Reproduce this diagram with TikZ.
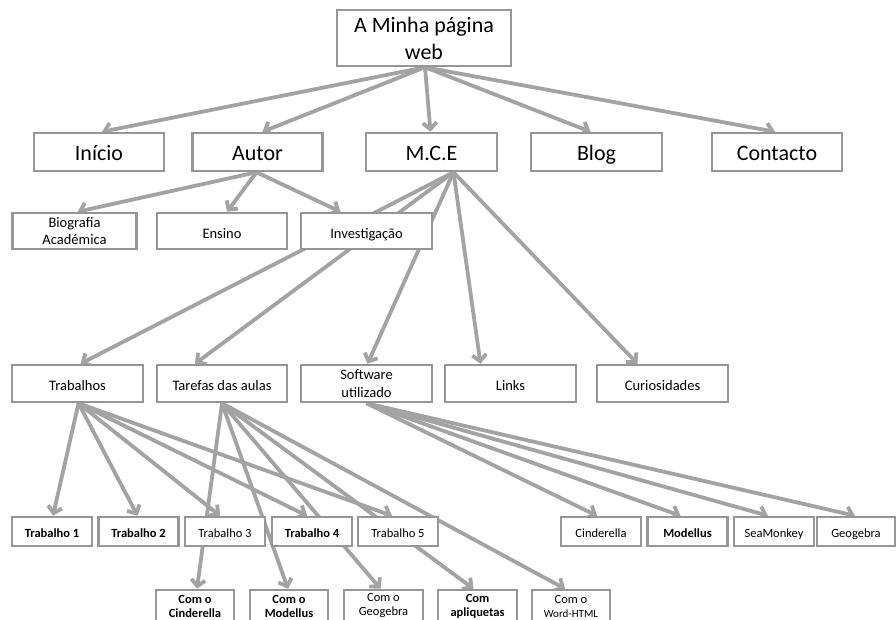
\documentclass[tikz,border=0pt]{standalone}
\usepackage{fontspec}
\setmainfont{Carlito}
\usetikzlibrary{arrows.meta,backgrounds}
\definecolor{boxgray}{RGB}{150,150,150}
\definecolor{linegray}{RGB}{163,163,163}
\pgfdeclarelayer{paper}
\pgfsetlayers{paper,background,main}
\begin{document}
\begin{tikzpicture}[x=1pt,y=-1pt,
  box/.style={draw=boxgray, line width=2.5pt, fill=white, inner sep=0pt, align=center, text=black},
  big/.style={box, minimum height=38pt, font=\fontsize{22}{27}\selectfont},
  bigone/.style={big, text height=18.5pt, text depth=2.5pt},
  mid/.style={box, minimum height=37pt, minimum width=130pt, font=\fontsize{14.5}{17.5}\selectfont},
  midone/.style={mid, text height=14pt, text depth=0pt},
  small/.style={box, minimum height=29pt, minimum width=80pt, font=\fontsize{12.5}{14}\selectfont, text height=11pt, text depth=0pt},
  smallb/.style={small, font=\fontsize{12.5}{14}\selectfont\bfseries},
  tiny/.style={box, minimum height=32pt, minimum width=78pt, font=\fontsize{12.5}{14}\selectfont},
  tinyb/.style={tiny, font=\fontsize{12.5}{14}\selectfont\bfseries},
  link/.style={draw=linegray, line width=3.8pt, -{Straight Barb[length=6.5pt,width=14pt]}}
]
\useasboundingbox (0,0) rectangle (896,619);
\begin{pgfonlayer}{paper}
\fill[white] (0,0) rectangle (896,619);
\end{pgfonlayer}

% level 0
\node[big, minimum width=174pt, minimum height=56pt] (top) at (424,38) {A Minha página\\web};
% level 1
\node[bigone, minimum width=130pt] (inicio) at (99,152) {Início};
\node[bigone, minimum width=130pt] (autor) at (257.5,152) {Autor};
\node[bigone, minimum width=131pt] (mce) at (431.5,152) {M.C.E};
\node[bigone, minimum width=131pt] (blog) at (596.5,152) {Blog};
\node[bigone, minimum width=130pt] (contacto) at (777,152) {Contacto};
% level 2
\node[mid, minimum width=124pt, minimum height=36pt] (bio) at (74.5,231) {Biografia\\Académica};
\node[midone, minimum height=36pt] (ensino) at (222,231) {Ensino};
\node[midone, minimum width=131pt, minimum height=36pt] (inv) at (366.5,231) {Investigação};
% level 3
\node[midone, minimum width=131pt] (trab) at (77.5,383.5) {Trabalhos};
\node[midone] (tarefas) at (222,383.5) {Tarefas das aulas};
\node[mid, minimum width=131pt, font=\fontsize{14.5}{18}\selectfont] (soft) at (366.5,383.5) {Software\\utilizado};
\node[midone, minimum width=131pt] (links) at (510.5,383.5) {Links};
\node[midone, minimum width=131pt] (curio) at (662.5,383.5) {Curiosidades};
% level 4
\node[smallb] (t1) at (52,531.5) {Trabalho 1};
\node[smallb] (t2) at (138.5,531.5) {Trabalho 2};
\node[small] (t3) at (225,531.5) {Trabalho 3};
\node[smallb] (t4) at (312,531.5) {Trabalho 4};
\node[small] (t5) at (398,531.5) {Trabalho 5};
\node[small] (scin) at (601,531.5) {Cinderella};
\node[smallb] (smod) at (687.5,531.5) {Modellus};
\node[small] (ssea) at (774,531.5) {SeaMonkey};
\node[small, minimum width=78pt] (sgeo) at (856,531.5) {Geogebra};
% level 5
\node[tinyb] (ccin) at (195,606) {Com o\\Cinderella};
\node[tinyb] (cmod) at (289,606) {Com o\\Modellus};
\node[tiny, minimum width=79pt] (cgeo) at (383.5,606) {Com o\\Geogebra};
\node[tinyb, minimum width=79pt] (capl) at (477.5,606) {Com\\apliquetas};
\node[tiny] (cword) at (571,606) {Com o\\{\fontsize{11}{14}\selectfont Word-HTML}};

\begin{pgfonlayer}{background}
\draw[link] ([xshift=1pt]top.south) -- ([xshift=3pt]inicio.north);
\draw[link] ([xshift=1pt]top.south) -- ([xshift=5pt]autor.north);
\draw[link] ([xshift=1pt]top.south) -- ([xshift=-1pt]mce.north);
\draw[link] ([xshift=1pt]top.south) -- ([xshift=-6pt]blog.north);
\draw[link] ([xshift=1pt]top.south) -- ([xshift=-2pt]contacto.north);

\draw[link] ([xshift=-1pt]autor.south) -- ([xshift=3pt]bio.north);
\draw[link] ([xshift=-1pt]autor.south) -- ([xshift=5pt]ensino.north);
\draw[link] ([xshift=-1pt]autor.south) -- ([xshift=-26pt]inv.north);

\draw[link] ([xshift=22pt]mce.south) -- ([xshift=3pt]trab.north);
\draw[link] ([xshift=22pt]mce.south) -- ([xshift=-27pt]tarefas.north);
\draw[link] ([xshift=22pt]mce.south) -- ([xshift=1pt]soft.north);
\draw[link] ([xshift=22pt]mce.south) -- ([xshift=-30pt]links.north);
\draw[link] ([xshift=22pt]mce.south) -- ([xshift=-25pt]curio.north);

\draw[link] ([xshift=1pt]trab.south) -- ([xshift=1pt]t1.north);
\draw[link] ([xshift=1pt]trab.south) -- ([xshift=-1pt]t2.north);
\draw[link] ([xshift=1pt]trab.south) -- ([xshift=-5pt]t3.north);
\draw[link] ([xshift=1pt]trab.south) -- ([xshift=-5pt]t4.north);
\draw[link] ([xshift=1pt]trab.south) -- ([xshift=-6pt]t5.north);

\draw[link] (tarefas.south) -- ([xshift=2pt]ccin.north);
\draw[link] (tarefas.south) -- ([xshift=-1pt]cmod.north);
\draw[link] (tarefas.south) -- ([xshift=-3pt]cgeo.north);
\draw[link] (tarefas.south) -- ([xshift=-4pt]capl.north);
\draw[link] (tarefas.south) -- ([xshift=-6pt]cword.north);

\draw[link] (soft.south) -- ([xshift=-4pt]scin.north);
\draw[link] (soft.south) -- ([xshift=-7pt]smod.north);
\draw[link] (soft.south) -- ([xshift=-6pt]ssea.north);
\draw[link] (soft.south) -- ([xshift=-1pt]sgeo.north);
\end{pgfonlayer}
\end{tikzpicture}
\end{document}
